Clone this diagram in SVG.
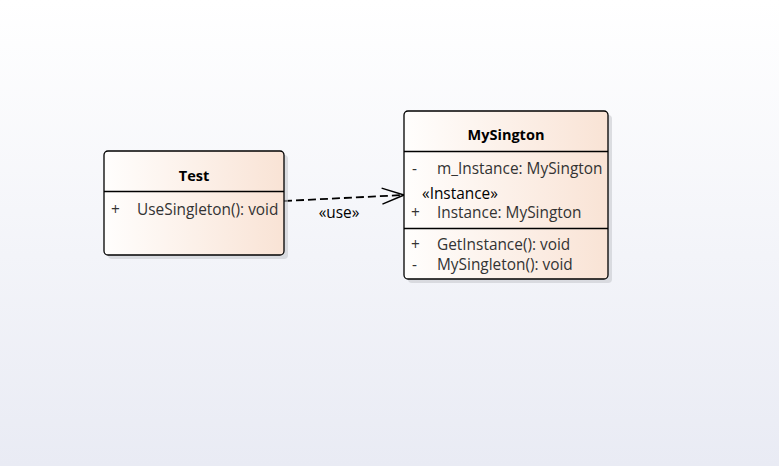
<svg xmlns="http://www.w3.org/2000/svg" width="779" height="466" viewBox="0 0 779 466">
<defs>
<linearGradient id="bg" x1="0" y1="0" x2="0" y2="1">
<stop offset="0" stop-color="#ffffff"/>
<stop offset="1" stop-color="#e9ebf4"/>
</linearGradient>
<linearGradient id="box" x1="0" y1="0" x2="1" y2="0">
<stop offset="0" stop-color="#fffefd"/>
<stop offset="1" stop-color="#f9e3d5"/>
</linearGradient>
<marker id="open" viewBox="0 0 24 18" refX="23" refY="9" markerWidth="24" markerHeight="18" markerUnits="userSpaceOnUse" orient="auto">
<path d="M1,1 L23,9 L1,17" fill="none" stroke="#000" stroke-width="1.5"/>
</marker>
<style>
.shadow{fill:#c8c9cf;opacity:0.6}
.node{fill:url(#box);stroke:#000;stroke-width:1.3}
.div{stroke:#000;stroke-width:1.3}
.title{font-family:"Open Sans","Noto Sans",sans-serif;font-size:14.5px;font-weight:bold;fill:#000;text-anchor:middle}
.t{font-family:"Open Sans","Noto Sans",sans-serif;font-size:15.4px;fill:#333}
.lbl{font-family:"Open Sans","Noto Sans",sans-serif;font-size:15.4px;fill:#000}
</style>
</defs>
<rect width="779" height="466" fill="url(#bg)"/>
<g id="connectors">
<path d="M284,201 L404,195" fill="none" stroke="#000" stroke-width="1.8" stroke-dasharray="8,4" marker-end="url(#open)"/>
<text class="lbl" x="339" y="218" text-anchor="middle">«use»</text>
</g>
<g id="Test">
<rect class="shadow" x="108" y="155" width="180" height="104" rx="4"/>
<rect class="node" x="104" y="151" width="180" height="104" rx="4"/>
<line class="div" x1="104" y1="191.5" x2="284" y2="191.5"/>
<text class="title" x="194" y="181">Test</text>
<text class="t" x="111" y="215">+</text>
<text class="t" x="137" y="215">UseSingleton(): void</text>
</g>
<g id="MySington">
<rect class="shadow" x="408" y="115" width="204" height="168" rx="4"/>
<rect class="node" x="404" y="111" width="204" height="168" rx="4"/>
<line class="div" x1="404" y1="151.5" x2="608" y2="151.5"/>
<line class="div" x1="404" y1="228.5" x2="608" y2="228.5"/>
<text class="title" x="506" y="140">MySington</text>
<text class="t" x="412" y="174">-</text>
<text class="t" x="437" y="174">m_Instance: MySington</text>
<text class="lbl" x="422" y="199">«Instance»</text>
<text class="t" x="411" y="218">+</text>
<text class="t" x="437" y="218">Instance: MySington</text>
<text class="t" x="411" y="250">+</text>
<text class="t" x="437" y="250">GetInstance(): void</text>
<text class="t" x="412" y="270">-</text>
<text class="t" x="437" y="270">MySingleton(): void</text>
</g>
</svg>
